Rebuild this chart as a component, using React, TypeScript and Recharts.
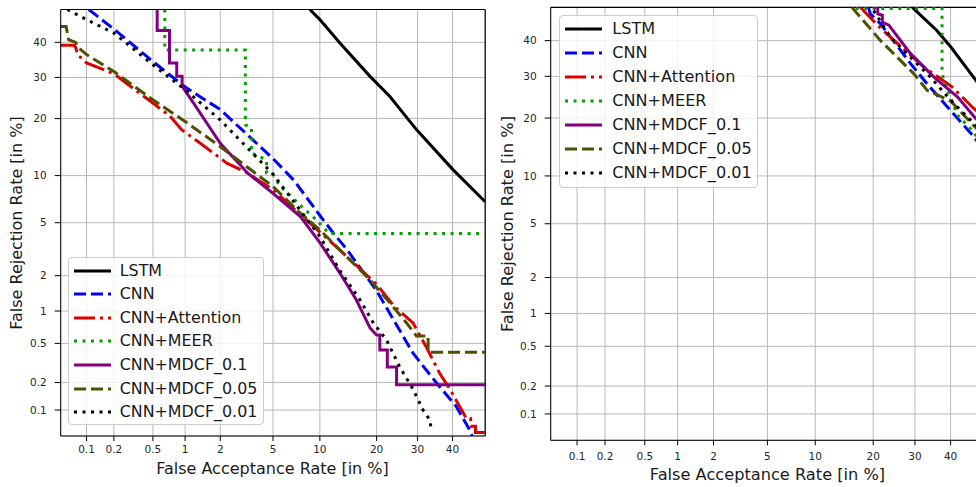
// DET curves (probit axes) for the speaker-verification models, two panels side by side.
import { CartesianGrid, Line, LineChart, ReferenceLine, XAxis, YAxis } from "recharts";

type Pt = [number, number]; // [false acceptance %, false rejection %]

const TICK_PCT = [0.1, 0.2, 0.5, 1, 2, 5, 10, 20, 30, 40];
const TICK_LABELS = ["0.1", "0.2", "0.5", "1", "2", "5", "10", "20", "30", "40"];

const SERIES_NAMES = ["LSTM", "CNN", "CNN+Attention", "CNN+MEER", "CNN+MDCF_0.1", "CNN+MDCF_0.05", "CNN+MDCF_0.01"];

// left panel
const LSTM_L: Pt[] = [[8.7, 50], [10, 46.9], [13, 39.8], [18.6, 30.3], [23, 25.1], [29.7, 17.7], [40.2, 10.8], [50, 6.9]];
const CNN_L: Pt[] = [[0.106, 50], [0.2, 44], [0.5, 34.4], [1, 27.5], [2, 22], [5, 12.5], [6.9, 9.4], [10, 5.6], [12, 4.2], [14.2, 3.2], [20, 1.5], [28.8, 0.4], [35.2, 0.2], [41.1, 0.11], [45.2, 0.059], [46, 0.05]];
const ATT_L: Pt[] = [[0.05, 39.1], [0.072, 39.1], [0.075, 38.5], [0.08, 36], [0.089, 35.4], [0.1, 34], [0.2, 31], [0.5, 23.5], [0.73, 20.5], [0.93, 17.7], [1.36, 15.1], [2.26, 11.8], [3.24, 10.4], [5, 8.2], [10, 4.3], [14.7, 2.7], [20, 1.7], [24, 1.1], [28.8, 0.78], [32.4, 0.46], [36.2, 0.25], [39.2, 0.17], [42.1, 0.11], [44.2, 0.08], [45.5, 0.08], [45.5, 0.065], [47, 0.065], [47, 0.055], [50, 0.055]];
const MEER_L: Pt[] = [[0.65, 50], [0.65, 37.7], [3.15, 37.7], [3.15, 18.7], [3.5, 18.1], [3.5, 13.4], [4.5, 12.3], [4.5, 10.4], [5, 10.2], [5.6, 8.6], [6.5, 7.6], [8, 6.2], [9.6, 5.2], [10.5, 4.6], [11.4, 4.2], [50, 4.2]];
const MDCF1_L: Pt[] = [[0.55, 50], [0.55, 43.6], [0.72, 43.6], [0.72, 34], [0.84, 34], [0.84, 30.3], [0.94, 30.3], [0.94, 27.7], [1.19, 23.5], [1.55, 19], [2, 15.1], [3.3, 10.3], [5, 7.8], [7.6, 5.5], [10, 3.6], [13, 2.1], [15.9, 1.25], [18.6, 0.7], [20, 0.6], [20.7, 0.6], [20.7, 0.43], [22.4, 0.43], [22.4, 0.29], [24.6, 0.29], [24.6, 0.19], [50, 0.19]];
const MDCF05_L: Pt[] = [[0.05, 44.8], [0.058, 44.8], [0.062, 40.8], [0.075, 40], [0.08, 38.5], [0.1, 36.4], [0.2, 31.6], [0.5, 24.3], [1, 19.4], [2, 14.5], [5, 8.6], [7.6, 5.8], [10, 4.45], [14.7, 2.67], [18.6, 1.85], [23, 1.18], [27.1, 0.78], [29.7, 0.59], [32.9, 0.59], [32.9, 0.41], [50, 0.41]];
const MDCF01_L: Pt[] = [[0.06, 50], [0.1, 46.9], [0.2, 42.8], [0.5, 33.5], [1, 26.8], [2, 19.7], [5, 10.2], [10, 4.0], [13, 2.2], [16.6, 1.25], [19.3, 0.78], [22.2, 0.54], [25.4, 0.29], [28.8, 0.17], [31.5, 0.1], [33.4, 0.077], [33.8, 0.059]];

// right panel
const LSTM_R: Pt[] = [[29.3, 50], [36, 43], [40, 38.2], [47.5, 29], [50, 26]];
const CNN_R: Pt[] = [[19, 50], [19.4, 48], [21.6, 45], [28.8, 33.5], [33.3, 28], [39, 22.5], [46.9, 16.3], [50, 13.8]];
const ATT_R: Pt[] = [[17.4, 50], [21.6, 43.7], [32.4, 32.5], [37, 29.4], [40.5, 27.2], [46.9, 22.1], [50, 20.3]];
const MEER_R: Pt[] = [[16.5, 49.6], [37.5, 49.6], [37.5, 31], [38, 29], [42, 20.6], [46, 17.8], [50, 14.5]];
const MDCF1_R: Pt[] = [[20.1, 50], [21, 50], [21, 48], [22, 47.6], [22, 45.5], [23.5, 44.6], [28.8, 36.3], [35.2, 29.8], [42, 24.8], [47.5, 19.9], [50, 18.3]];
const MDCF05_R: Pt[] = [[15.8, 50], [21.6, 40], [29.7, 30.7], [33.3, 26.4], [40, 23.8], [47.5, 18], [50, 16.7]];
const MDCF01_R: Pt[] = [[20.1, 49], [23.9, 41], [34.2, 29.8], [40, 24], [47.5, 18.5], [50, 17]];

const LEFT_SERIES = [LSTM_L, CNN_L, ATT_L, MEER_L, MDCF1_L, MDCF05_L, MDCF01_L];
const RIGHT_SERIES = [LSTM_R, CNN_R, ATT_R, MEER_R, MDCF1_R, MDCF05_R, MDCF01_R];

const STYLES = [
  { color: "#000000", dash: undefined },
  { color: "#0000ff", dash: "12 5" },
  { color: "#dd0000", dash: "21 5 3 5" },
  { color: "#00a000", dash: "3 5.5" },
  { color: "#800080", dash: undefined },
  { color: "#505000", dash: "12 5" },
  { color: "#000000", dash: "3 5.5" },
];

const FONT = "DejaVu Sans, sans-serif";

// inverse normal CDF (Acklam), used as the DET axis scale
function probit(p: number) {
  const a = [-39.69683028665376, 220.9460984245205, -275.9285104469687, 138.357751867269, -30.66479806614716, 2.506628277459239];
  const b = [-54.47609879822406, 161.5858368580409, -155.6989798598866, 66.80131188771972, -13.28068155288572];
  const c = [-0.007784894002430293, -0.3223964580411365, -2.400758277161838, -2.549732539343734, 4.374664141464968, 2.938163982698783];
  const d = [0.007784695709041462, 0.3224671290700398, 2.445134137142996, 3.754408661907416];
  const plow = 0.02425;
  if (p < plow) {
    const q = Math.sqrt(-2 * Math.log(p));
    return (((((c[0] * q + c[1]) * q + c[2]) * q + c[3]) * q + c[4]) * q + c[5]) / ((((d[0] * q + d[1]) * q + d[2]) * q + d[3]) * q + 1);
  }
  if (p <= 1 - plow) {
    const q = p - 0.5;
    const r = q * q;
    return ((((((a[0] * r + a[1]) * r + a[2]) * r + a[3]) * r + a[4]) * r + a[5]) * q) / (((((b[0] * r + b[1]) * r + b[2]) * r + b[3]) * r + b[4]) * r + 1);
  }
  const q = Math.sqrt(-2 * Math.log(1 - p));
  return -(((((c[0] * q + c[1]) * q + c[2]) * q + c[3]) * q + c[4]) * q + c[5]) / ((((d[0] * q + d[1]) * q + d[2]) * q + d[3]) * q + 1);
}

const toZ = (pct: number) => (pct >= 50 ? 0 : probit(pct / 100));
const Z_MIN = probit(0.0005);
const TICK_Z = TICK_PCT.map(toZ);
const toPoints = (arr: Pt[]) => arr.map(([fa, fr]) => ({ x: toZ(fa), y: toZ(fr) }));

function DetPanel({ series, width, height, margin, xTickMargin }: {
  series: Pt[][]; width: number; height: number;
  margin: { top: number; right: number; bottom: number; left: number }; xTickMargin: number;
}) {
  const tickStyle = { fontSize: 10.5, fill: "#262626", fontFamily: FONT };
  return (
    <LineChart width={width} height={height} margin={margin}>
      <CartesianGrid stroke="#b8b8b8" strokeWidth={1} />
      <XAxis type="number" dataKey="x" domain={[Z_MIN, 0]} allowDataOverflow ticks={TICK_Z} interval={0}
        tickFormatter={(_v: number, i: number) => TICK_LABELS[i]} height={30} tickSize={5} tickMargin={xTickMargin}
        stroke="#000" tick={tickStyle} />
      <YAxis type="number" dataKey="y" domain={[Z_MIN, 0]} allowDataOverflow ticks={TICK_Z} interval={0}
        tickFormatter={(_v: number, i: number) => TICK_LABELS[i]} width={40} tickSize={6} tickMargin={8}
        stroke="#000" tick={tickStyle} />
      <ReferenceLine y={0} stroke="#000" strokeWidth={1.2} />
      <ReferenceLine x={0} stroke="#000" strokeWidth={1.2} />
      {series.map((arr, i) => (
        <Line key={SERIES_NAMES[i]} data={toPoints(arr)} dataKey="y" name={SERIES_NAMES[i]} type="linear"
          stroke={STYLES[i].color} strokeDasharray={STYLES[i].dash} strokeWidth={3} dot={false}
          activeDot={false} isAnimationActive={false} />
      ))}
    </LineChart>
  );
}

function LegendBox({ left, top, width, height, gap, fontSize, textX }: {
  left: number; top: number; width: number; height: number; gap: number; fontSize: number; textX: number;
}) {
  return (
    <div style={{ position: "absolute", left, top, width, height, background: "rgba(255,255,255,0.8)", border: "1px solid #cccccc", borderRadius: 4, boxSizing: "border-box" }}>
      {SERIES_NAMES.map((name, i) => (
        <div key={name} style={{ position: "absolute", left: 0, top: 13 + i * gap, height: 0 }}>
          <svg width={37} height={8} style={{ position: "absolute", left: 5, top: -4 }}>
            <line x1={0} x2={37} y1={4} y2={4} stroke={STYLES[i].color} strokeWidth={3} strokeDasharray={STYLES[i].dash} />
          </svg>
          <span style={{ position: "absolute", left: textX, top: 0, transform: "translateY(-50%)", whiteSpace: "nowrap", fontSize, fontFamily: FONT, color: "#1a1a1a", lineHeight: 1 }}>{name}</span>
        </div>
      ))}
    </div>
  );
}

const titleStyle = { position: "absolute" as const, whiteSpace: "nowrap" as const, fontFamily: FONT, color: "#1a1a1a", lineHeight: 1 };

export default function App() {
  return (
    <div style={{ position: "absolute", left: 0, top: 0, width: 976, height: 487, overflow: "hidden", background: "#fff" }}>
      <div style={{ position: "absolute", left: 0, top: 0 }}>
        <DetPanel series={LEFT_SERIES} width={490} height={487} xTickMargin={5}
          margin={{ top: 9.5, right: 4.8, bottom: 21, left: 20.7 }} />
      </div>
      <div style={{ position: "absolute", left: 490, top: 0 }}>
        <DetPanel series={RIGHT_SERIES} width={500} height={487} xTickMargin={7.5}
          margin={{ top: 7.3, right: 6, bottom: 16.7, left: 20.7 }} />
      </div>

      <LegendBox left={67.7} top={256.7} width={196} height={168.5} gap={23.6} fontSize={15.9} textX={51} />
      <LegendBox left={559.3} top={15} width={199} height={173.3} gap={24} fontSize={16.1} textX={52} />

      <div style={{ ...titleStyle, left: 272.5, top: 469, fontSize: 16, transform: "translate(-50%,-50%)" }}>False Acceptance Rate [in %]</div>
      <div style={{ ...titleStyle, left: 17, top: 223, fontSize: 16, transform: "translate(-50%,-50%) rotate(-90deg)" }}>False Rejection Rate [in %]</div>
      <div style={{ ...titleStyle, left: 767.5, top: 475, fontSize: 16.2, transform: "translate(-50%,-50%)" }}>False Acceptance Rate [in %]</div>
      <div style={{ ...titleStyle, left: 508, top: 224, fontSize: 16.2, transform: "translate(-50%,-50%) rotate(-90deg)" }}>False Rejection Rate [in %]</div>
    </div>
  );
}
